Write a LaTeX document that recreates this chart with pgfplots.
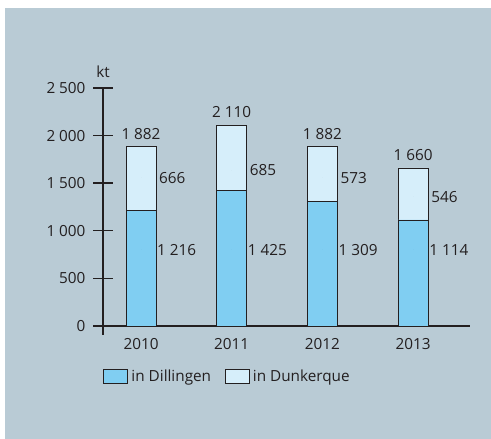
\documentclass[border=0pt]{standalone}
\usepackage{fontspec}
\setmainfont{Open Sans}
\usepackage{pgfplots}
\pgfplotsset{compat=1.18}
\usepackage{pgfplotstable}
\definecolor{bg}{HTML}{B9CBD5}
\definecolor{dill}{HTML}{80CEF2}
\definecolor{dunk}{HTML}{D6EEFA}
\definecolor{ax}{HTML}{231F20}
\newcommand{\lf}{\fontsize{15.3bp}{17bp}\selectfont}

\pgfplotstableread{
x dill total
0 1216 1882
1 1425 2110
2 1309 1882
3 1114 1660
}\bars

\pgfplotstableread{
x y label
0 2015 {1~882}
1 2243 {2~110}
2 2015 {1~882}
3 1793 {1~660}
}\totlabels

\pgfplotstableread{
x y label
0 1557 666
1 1633 685
2 1557 573
3 1358 546
}\uplabels

\pgfplotstableread{
x y label
0 798 {1~216}
1 798 {1~425}
2 798 {1~309}
3 798 {1~114}
}\lowlabels

\pgfplotstableread{
x y
-0.419 0
-0.419 500
-0.419 1000
-0.419 1500
-0.419 2000
-0.419 2500
}\yticks

\begin{document}
\begin{tikzpicture}[font=\lf]
\useasboundingbox (0,0) rectangle (491bp,439bp);
\fill[white] (0,0) rectangle (491bp,439bp);
\fill[bg] (5bp,0) rectangle (491bp,431bp);
\begin{axis}[
  at={(103bp,104bp)}, anchor=south west, scale only axis,
  width=367bp, height=247bp,
  xmin=-0.419, xmax=3.627, ymin=-95, ymax=2500,
  axis x line*=middle, axis y line*=left,
  hide obscured x ticks=false, hide obscured y ticks=false,
  x axis line style={ax, line width=1.8bp},
  y axis line style={ax, line width=1.4bp},
  ytick={0,500,1000,1500,2000,2500},
  yticklabels={0,500,1~000,1~500,2~000,2~500},
  xtick={0,1,2,3}, xticklabels={2010,2011,2012,2013},
  xtick style={draw=none}, ytick style={draw=none},
  major tick length=0pt,
  yticklabel style={anchor=east, xshift=-14bp, font=\lf, text=ax},
  xticklabel style={anchor=north, yshift=-9bp, font=\lf, text=ax},
  /pgf/number format/assume math mode=true,
  clip=false,
  legend columns=2,
  legend cell align=left,
  legend style={at={(axis description cs:0,0)}, anchor=north west, yshift=-31bp,
    draw=none, fill=none, inner sep=0pt,
    font=\lf, text=ax,
    nodes={inner sep=3.5bp},
    /tikz/every odd column/.append style={column sep=0bp},
    /tikz/every even column/.append style={column sep=10bp}},
]
\addplot[forget plot, only marks, mark=-, mark size=9.5bp, mark options={draw=ax, line width=1.4bp}]
  table[x=x, y=y]{\yticks};
\addplot[forget plot, ybar, bar width=30bp, fill=dunk, draw=ax, line width=0.8bp]
  table[x=x, y=total]{\bars};
\addplot[ybar, bar width=30bp, fill=dill, draw=ax, line width=0.8bp,
  legend image code/.code={\draw[fill=dill, draw=ax, line width=0.8bp] (0bp,-7bp) rectangle (24bp,7bp);}]
  table[x=x, y=dill]{\bars};
\addlegendentry{in Dillingen}
\addlegendimage{legend image code/.code={\draw[fill=dunk, draw=ax, line width=0.8bp] (0bp,-7bp) rectangle (24bp,7bp);}}
\addlegendentry{in Dunkerque}

\addplot[forget plot, only marks, mark=*, mark size=0pt, mark options={draw=none, fill=none},
  nodes near coords, point meta=explicit symbolic,
  nodes near coords style={anchor=center, text=ax, font=\lf}]
  table[x=x, y=y, meta=label]{\totlabels};
\addplot[forget plot, only marks, mark=*, mark size=0pt, mark options={draw=none, fill=none},
  nodes near coords, point meta=explicit symbolic,
  nodes near coords style={anchor=west, xshift=18bp, inner sep=0pt, text=ax, font=\lf}]
  table[x=x, y=y, meta=label]{\uplabels};
\addplot[forget plot, only marks, mark=*, mark size=0pt, mark options={draw=none, fill=none},
  nodes near coords, point meta=explicit symbolic,
  nodes near coords style={anchor=west, xshift=16bp, inner sep=0pt, text=ax, font=\lf}]
  table[x=x, y=y, meta=label]{\lowlabels};

\node[text=ax, yshift=16bp] at (axis description cs:0,1) {kt};
\end{axis}
\end{tikzpicture}
\end{document}
